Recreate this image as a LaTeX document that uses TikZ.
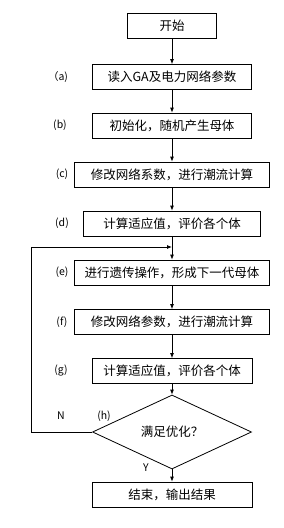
\documentclass[tikz,border=0pt]{standalone}
\usepackage{fontspec}
\usepackage{tikz}
\usetikzlibrary{positioning,shapes.geometric,arrows.meta}
\newfontfamily\cjk{Noto Sans CJK SC}

\begin{document}
\begin{tikzpicture}[x=1pt,y=-1pt,
    font=\cjk\fontsize{12.5}{14}\selectfont,
    stepbox/.style={draw, line width=0.8pt, inner sep=0pt, minimum height=25pt},
    testbox/.style={diamond, draw, line width=0.8pt, inner sep=0pt,
                    minimum width=159pt, minimum height=49pt},
    tag/.style={font=\cjk\fontsize{10.5}{12}\selectfont},
    flow/.style={line width=0.8pt, -{Latex[length=5pt,width=4pt]}}]
  \useasboundingbox (0,0) rectangle (284,528);
  % boxes of the flow
  \node[stepbox, minimum width=89pt] (start) at (172,26) {开始};
  \node[stepbox, minimum width=159pt] (read) at (172,77) {读入GA及电力网络参数};
  \node[stepbox, minimum width=159pt] (init) at (172,125.5) {初始化，随机产生母体};
  \node[stepbox, minimum width=195pt] (flowa) at (172,174.5) {修改网络系数，进行潮流计算};
  \node[stepbox, minimum width=177pt] (fita) at (172,223.5) {计算适应值，评价各个体};
  \node[stepbox, minimum width=195pt] (gene) at (172,272.5) {进行遗传操作，形成下一代母体};
  \node[stepbox, minimum width=195pt] (flowb) at (172,322) {修改网络参数，进行潮流计算};
  \node[stepbox, minimum width=160pt] (fitb) at (172,371) {计算适应值，评价各个体};
  \node[testbox] (test) at (172,432) {满足优化？};
  \node[stepbox, minimum width=160pt] (stop) at (172,494.5) {结束，输出结果};
  % step tags
  \node[tag] (ta) at (58,77) {（a)};
  \node[tag] (tb) at (60,125.5) {(b)};
  \node[tag] (tc) at (62,174.5) {(c)};
  \node[tag] (td) at (62,223.5) {(d)};
  \node[tag] (te) at (62,272.5) {(e)};
  \node[tag] (tf) at (62,322) {(f)};
  \node[tag] (tg) at (61,371) {(g)};
  \node[tag] (th) at (104,416) {(h)};
  \node[tag] (no) at (61,416) {N};
  \node[tag] (yes) at (146,468) {Y};
  % loop back
  \coordinate (join) at (172,247);
  \coordinate (low) at (31,432);
  \coordinate (high) at (31,247);
  % connectors
  \draw[flow] (start) -- (read);
  \draw[flow] (read) -- (init);
  \draw[flow] (init) -- (flowa);
  \draw[flow] (flowa) -- (fita);
  \draw[flow] (fita) -- (gene);
  \draw[flow] (gene) -- (flowb);
  \draw[flow] (flowb) -- (fitb);
  \draw[flow] (fitb) -- (test);
  \draw[flow] (test) -- (stop);
  \draw[flow] (test.west) -- (low) -- (high) -- (join);
\end{tikzpicture}
\end{document}
